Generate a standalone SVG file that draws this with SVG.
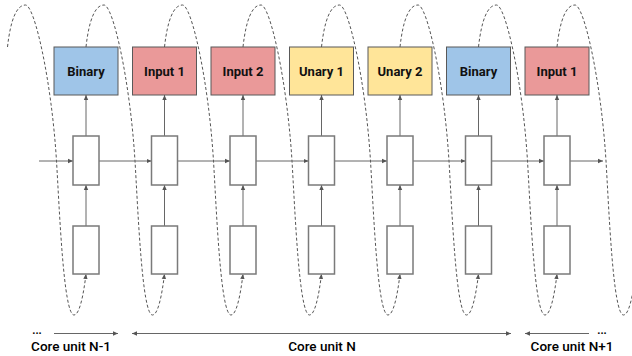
<svg xmlns="http://www.w3.org/2000/svg" width="632" height="356" viewBox="0 0 632 356">
<style>
.op{stroke:#595959;stroke-width:1;}
.blue{fill:#9fc5e8;}
.red{fill:#ea9999;}
.yel{fill:#ffe599;}
.cell{fill:#fff;stroke:#7a7a7a;stroke-width:1.5;}
.lbl{font-family:Roboto,"Liberation Sans",sans-serif;font-weight:bold;font-size:13px;fill:#111;text-anchor:middle;}
.cap{font-family:Roboto,"Liberation Sans",sans-serif;font-weight:500;font-size:13.5px;fill:#000;text-anchor:middle;}
.ln{stroke:#666;stroke-width:1;fill:none;}
.dash{stroke:#555;stroke-width:1;fill:none;stroke-dasharray:3 2.2;}
</style>
<defs>
<marker id="ah" markerWidth="6" markerHeight="6" refX="5" refY="3" orient="auto" markerUnits="userSpaceOnUse">
<path d="M0,0.8 L5,3 L0,5.2 Z" fill="#555"/>
</marker>
<marker id="ahs" markerWidth="6" markerHeight="6" refX="0" refY="3" orient="auto" markerUnits="userSpaceOnUse">
<path d="M5,0.8 L0,3 L5,5.2 Z" fill="#555"/>
</marker>
<path id="loop" d="M0,47 C3,20 9,5 18,5 C27,5 44,80 49,161 C52,210 56,315 66.5,315 C72,315 76,295 78.5,274"/>
</defs>
<g id="connectors">
<g class="dash" marker-end="url(#ah)">
<use href="#loop" x="7.5"/>
<use href="#loop" x="86"/>
<use href="#loop" x="164.5"/>
<use href="#loop" x="243"/>
<use href="#loop" x="321.5"/>
<use href="#loop" x="400"/>
<use href="#loop" x="478.5"/>
<use href="#loop" x="557"/>
</g>
<g class="ln" marker-end="url(#ah)">
<line x1="39" y1="161" x2="73" y2="161"/>
<line x1="99" y1="161" x2="151.5" y2="161"/>
<line x1="177.5" y1="161" x2="230" y2="161"/>
<line x1="256" y1="161" x2="308.5" y2="161"/>
<line x1="334.5" y1="161" x2="387" y2="161"/>
<line x1="413" y1="161" x2="465.5" y2="161"/>
<line x1="491.5" y1="161" x2="544" y2="161"/>
<line x1="570" y1="161" x2="603" y2="161"/>
<line x1="86" y1="226" x2="86" y2="185"/>
<line x1="164.5" y1="226" x2="164.5" y2="185"/>
<line x1="243" y1="226" x2="243" y2="185"/>
<line x1="321.5" y1="226" x2="321.5" y2="185"/>
<line x1="400" y1="226" x2="400" y2="185"/>
<line x1="478.5" y1="226" x2="478.5" y2="185"/>
<line x1="557" y1="226" x2="557" y2="185"/>
<line x1="86" y1="136" x2="86" y2="95"/>
<line x1="164.5" y1="136" x2="164.5" y2="95"/>
<line x1="243" y1="136" x2="243" y2="95"/>
<line x1="321.5" y1="136" x2="321.5" y2="95"/>
<line x1="400" y1="136" x2="400" y2="95"/>
<line x1="478.5" y1="136" x2="478.5" y2="95"/>
<line x1="557" y1="136" x2="557" y2="95"/>
<line x1="54" y1="333.5" x2="118" y2="333.5"/>
<line x1="132" y1="333.5" x2="511" y2="333.5" marker-start="url(#ahs)"/>
<line x1="589" y1="333.5" x2="525" y2="333.5"/>
</g>
</g>
<g id="cells">
<rect class="cell" x="73" y="136" width="26" height="49"/>
<rect class="cell" x="151.5" y="136" width="26" height="49"/>
<rect class="cell" x="230" y="136" width="26" height="49"/>
<rect class="cell" x="308.5" y="136" width="26" height="49"/>
<rect class="cell" x="387" y="136" width="26" height="49"/>
<rect class="cell" x="465.5" y="136" width="26" height="49"/>
<rect class="cell" x="544" y="136" width="26" height="49"/>
<rect class="cell" x="73" y="226" width="26" height="48"/>
<rect class="cell" x="151.5" y="226" width="26" height="48"/>
<rect class="cell" x="230" y="226" width="26" height="48"/>
<rect class="cell" x="308.5" y="226" width="26" height="48"/>
<rect class="cell" x="387" y="226" width="26" height="48"/>
<rect class="cell" x="465.5" y="226" width="26" height="48"/>
<rect class="cell" x="544" y="226" width="26" height="48"/>
</g>
<g id="n1"><rect class="op blue" x="54" y="47" width="64" height="48"/><text class="lbl" x="86" y="76">Binary</text></g>
<g id="n2"><rect class="op red" x="132.5" y="47" width="64" height="48"/><text class="lbl" x="164.5" y="76">Input 1</text></g>
<g id="n3"><rect class="op red" x="211" y="47" width="64" height="48"/><text class="lbl" x="243" y="76">Input 2</text></g>
<g id="n4"><rect class="op yel" x="289.5" y="47" width="64" height="48"/><text class="lbl" x="321.5" y="76">Unary 1</text></g>
<g id="n5"><rect class="op yel" x="368" y="47" width="64" height="48"/><text class="lbl" x="400" y="76">Unary 2</text></g>
<g id="n6"><rect class="op blue" x="446.5" y="47" width="64" height="48"/><text class="lbl" x="478.5" y="76">Binary</text></g>
<g id="n7"><rect class="op red" x="525" y="47" width="64" height="48"/><text class="lbl" x="557" y="76">Input 1</text></g>
<g id="labels">
<text class="cap" x="37" y="334" style="font-size:11px;font-weight:bold">...</text>
<text class="cap" x="602" y="334" style="font-size:11px;font-weight:bold">...</text>
<text class="cap" x="71" y="351">Core unit N-1</text>
<text class="cap" x="322" y="351">Core unit N</text>
<text class="cap" x="572" y="351">Core unit N+1</text>
</g>
</svg>
